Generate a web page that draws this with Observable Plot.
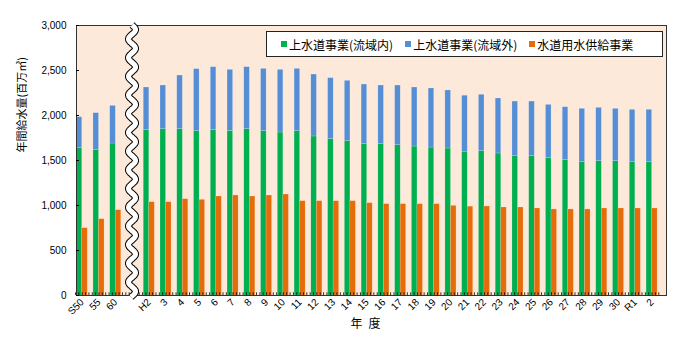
<!DOCTYPE html>
<html>
<head>
<meta charset="utf-8">
<script src="https://cdn.jsdelivr.net/npm/d3@7"></script>
<script src="https://cdn.jsdelivr.net/npm/@observablehq/plot@0.6"></script>
<style>
  body { margin: 0; background: #fff; }
  #wrap { position: relative; width: 680px; height: 353px; font-family: "Noto Sans CJK JP", "Noto Sans", sans-serif; }
  #legend { position: absolute; left: 266px; top: 31px; width: 395px; height: 24px; background: #fff; border: 1px solid #222;
            display: flex; align-items: center; font-size: 12px; color: #000; box-sizing: content-box; }
  #legend .it { display: flex; align-items: center; margin-left: 14px; }
  #legend .it + .it { margin-left: 12px; }
  #legend .sw { width: 6px; height: 6px; margin-right: 2px; }
</style>
</head>
<body>
<div id="wrap"></div>
<script>
// ---- data ----
const years = ["S50","55","60","H2","3","4","5","6","7","8","9","10","11","12","13","14","15","16","17","18","19","20","21","22","23","24","25","26","27","28","29","30","R1","2"];
const insideBasin  = [1637,1615,1689,1841,1848,1848,1826,1841,1830,1848,1826,1811,1826,1767,1737,1715,1685,1685,1670,1655,1644,1633,1591,1604,1578,1548,1548,1530,1504,1481,1492,1492,1481,1481];
const outsideBasin = [344,411,418,470,485,596,689,696,677,689,692,696,692,688,678,670,659,648,663,656,656,645,629,626,611,607,607,588,588,593,593,582,582,582];
const bulkSupply   = [748,848,948,1037,1037,1070,1063,1100,1111,1100,1111,1122,1048,1048,1048,1048,1026,1015,1015,1015,1015,996,987,989,978,978,967,956,956,956,967,967,967,967];
const yTicks = [0,500,1000,1500,2000,2500,3000];
const seriesNames = ["上水道事業(流域内)","上水道事業(流域外)","水道用水供給事業"];
const colors = ["#00B050","#558ED5","#E46C0A"];
const breakKey = "~";
const xDomain = [...years.slice(0,3), breakKey, ...years.slice(3)];

(function () {
const table = years.map((y,i) => ({year: y, inside: insideBasin[i], outside: outsideBasin[i], supply: bulkSupply[i]}));

const chart = Plot.plot({
  width: 680,
  height: 353,
  marginLeft: 76,
  marginRight: 14,
  marginTop: 25,
  marginBottom: 58,
  style: {fontFamily: "'Liberation Sans', Arial, sans-serif", fontSize: "10px", color: "#000", background: "transparent"},
  x: {type: "band", domain: xDomain, range: [70.5, 662.8], paddingInner: 0.34, paddingOuter: 0.34, round: false, label: null},
  y: {domain: [0, 3000], label: null},
  marks: [
    Plot.frame({fill: "#FDE9D9"}),
    Plot.barY(table, {x: "year", y1: 0, y2: "inside", fill: colors[0], insetRight: 5.5, stroke: "#fff", strokeOpacity: 0.35, strokeWidth: 0.5}),
    Plot.barY(table, {x: "year", y1: "inside", y2: d => d.inside + d.outside, fill: colors[1], insetRight: 5.5, stroke: "#fff", strokeOpacity: 0.35, strokeWidth: 0.5}),
    Plot.barY(table, {x: "year", y1: 0, y2: "supply", fill: colors[2], insetLeft: 5.5, stroke: "#fff", strokeOpacity: 0.35, strokeWidth: 0.5}),
    ...[-6.7, -3.35, 0, 3.35, 6.7].map(dx => Plot.ruleX(xDomain, {x: d => d, y1: 0, y2: 30, stroke: "#000", strokeWidth: 0.8, dx})),
    Plot.frame({stroke: "#333", strokeWidth: 1}),
    Plot.axisY({ticks: yTicks, tickSize: 0, tickPadding: 10, tickFormat: d3.format(",")}),
    Plot.axisY({ticks: yTicks, tickSize: -3, tickFormat: () => ""}),
    Plot.axisX({tickSize: 0, tickPadding: 5, tickRotate: -45, tickFormat: d => d === breakKey ? "" : d}),
    Plot.text(["年間給水量(百万㎥)"], {frameAnchor: "left", dx: -54, dy: -8, rotate: -90, fontSize: 11, fontFamily: "Noto Sans CJK JP", fill: "#000"}),
    Plot.text(["年\u2002度"], {frameAnchor: "bottom", dx: -6, dy: 32, fontSize: 12, fontFamily: "Noto Sans CJK JP", fill: "#000"})
  ]
});

document.getElementById("wrap").appendChild(chart);

// axis-break decoration (wavy band) placed at the break slot via the x scale
const xs = chart.scale("x");
const cx = xs.apply(breakKey) + xs.bandwidth / 2;
const y0 = 25, y1 = 297;
const pts = d3.range(y0, y1 + 0.5, 0.5).map(y => [cx + 3.5 * Math.sin(2 * Math.PI * (y - y0) / 18.7), y]);
const line = d3.line();
const svg = d3.select(chart);
svg.append("path").attr("d", line(pts)).attr("fill", "none").attr("stroke", "#000").attr("stroke-width", 7);
svg.append("path").attr("d", line(pts)).attr("fill", "none").attr("stroke", "#fff").attr("stroke-width", 5);

// legend inside the plot area
const lg = document.createElement("div");
lg.id = "legend";
seriesNames.forEach((n, i) => {
  const it = document.createElement("div");
  it.className = "it";
  it.innerHTML = `<span class="sw" style="background:${colors[i]}"></span><span>${n}</span>`;
  lg.appendChild(it);
});
document.getElementById("wrap").appendChild(lg);
})();
</script>
</body>
</html>
